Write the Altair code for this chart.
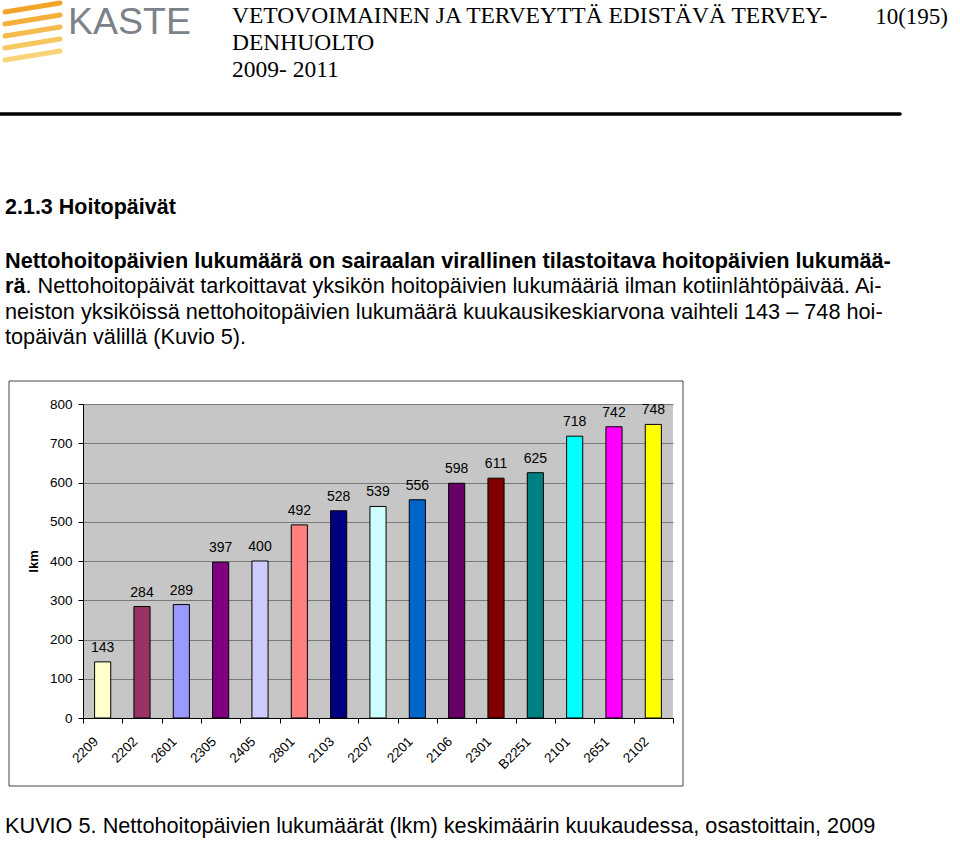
import altair as alt
import pandas as pd

# ---- data ----
categories = ["2209", "2202", "2601", "2305", "2405", "2801", "2103", "2207",
              "2201", "2106", "2301", "B2251", "2101", "2651", "2102"]
values = [143, 284, 289, 397, 400, 492, 528, 539, 556, 598, 611, 625, 718, 742, 748]
bar_colors = ["#FFFFCC", "#993366", "#9999FF", "#800080", "#CCCCFF", "#FF8080",
              "#000080", "#CCFFFF", "#0066CC", "#660066", "#800000", "#008080",
              "#00FFFF", "#FF00FF", "#FFFF00"]
y_ticks = [0, 100, 200, 300, 400, 500, 600, 700, 800]

header_lines = ["VETOVOIMAINEN JA TERVEYTTÄ EDISTÄVÄ TERVEY-", "DENHUOLTO", "2009- 2011"]
page_no = "10(195)"
heading = "2.1.3 Hoitopäivät"
para_bold_1 = "Nettohoitopäivien lukumäärä on sairaalan virallinen tilastoitava hoitopäivien lukumää-"
para_bold_2 = "rä"
para_rest_2 = ". Nettohoitopäivät tarkoittavat yksikön hoitopäivien lukumääriä ilman kotiinlähtöpäivää. Ai-"
para_3 = "neiston yksiköissä nettohoitopäivien lukumäärä kuukausikeskiarvona vaihteli 143 – 748 hoi-"
para_4 = "topäivän välillä (Kuvio 5)."
caption = "KUVIO 5. Nettohoitopäivien lukumäärät (lkm) keskimäärin kuukaudessa, osastoittain, 2009"
logo_text = "KASTE"

df = pd.DataFrame({"osasto": categories, "lkm": values})

SANS = "Liberation Sans"
SERIF = "Liberation Serif"

# plot area origin on page: (83, 404)
OX, OY = 83, 404
one = alt.Data(values=[{}])


def page_text(txt, px, py, size, font=SANS, weight="normal", color="black", align="left"):
    return alt.Chart(one).mark_text(
        text=txt, font=font, fontSize=size, fontWeight=weight, color=color,
        align=align, baseline="alphabetic"
    ).encode(x=alt.value(px - OX), y=alt.value(py - OY))


def page_rule(x1, y1, x2, y2, color, width):
    return alt.Chart(one).mark_rule(color=color, strokeWidth=width, strokeCap="round").encode(
        x=alt.value(x1 - OX), y=alt.value(y1 - OY), x2=alt.value(x2 - OX), y2=alt.value(y2 - OY))


x_enc = alt.X(
    "osasto:N", sort=categories,
    scale=alt.Scale(paddingInner=0, paddingOuter=0),
    axis=alt.Axis(title=None, labelAngle=315, labelAlign="right", labelBaseline="middle",
                  labelPadding=16, labelOffset=-7, tickBand="extent", tickSize=5,
                  domainColor="black", tickColor="black", labelColor="black",
                  labelFont=SANS, labelFontSize=13.5, labelOverlap=False, labelBound=False,
                  grid=False),
)
y_enc = alt.Y(
    "lkm:Q",
    scale=alt.Scale(domain=[0, 800], nice=False),
    axis=alt.Axis(values=y_ticks, title="lkm", titleFont=SANS, titleFontSize=13,
                  titleFontWeight="bold", titleColor="black", titleAngle=270,
                  titleX=33 - OX, titleY=561 - OY, titleAlign="center", titleBaseline="middle",
                  grid=True, gridColor="#7a7a7a", gridWidth=1, domainColor="black",
                  tickColor="black", tickSize=5, labelPadding=6, labelColor="black",
                  labelFont=SANS, labelFontSize=13.5, labelOverlap=False),
)

bars = alt.Chart(df).mark_bar(width={"band": 0.41}, stroke="black", strokeWidth=1).encode(
    x=x_enc, y=y_enc,
    color=alt.Color("osasto:N", scale=alt.Scale(domain=categories, range=bar_colors), legend=None),
)
labels = alt.Chart(df).mark_text(dy=-10, baseline="alphabetic", font=SANS, fontSize=14,
                                 color="black").encode(
    x=x_enc, y=y_enc, text="lkm:Q")

frame = alt.Chart(one).mark_rect(fillOpacity=0, stroke="#444444", strokeWidth=1).encode(
    x=alt.value(9 - OX), x2=alt.value(683 - OX), y=alt.value(381 - OY), y2=alt.value(786 - OY))

layers = [frame, bars, labels]

# logo
stripe_cols = ["#f2a52a", "#f4b03a", "#f5bb4c", "#f7c760", "#f9d47a"]
for i, c in enumerate(stripe_cols):
    y0 = 12 + i * 12
    layers.append(page_rule(5, y0, 60, y0 - 9, c, 5))
layers.append(page_text(logo_text, 68, 34, 37.5, color="#7d8288"))

# header
for i, line in enumerate(header_lines):
    layers.append(page_text(line, 232, 23 + i * 27, 23.5, font=SERIF))
layers.append(page_text(page_no, 948, 24, 23, font=SERIF, align="right"))
layers.append(page_rule(0, 114, 900, 114, "black", 3.5))

# body
BODY = 21.7
layers.append(page_text(heading, 5, 214, 21.5, weight="bold"))
layers.append(page_text(para_bold_1, 5, 268, BODY, weight="bold"))
layers.append(page_text(para_bold_2, 5, 293, BODY, weight="bold"))
layers.append(page_text(para_rest_2, 25.5, 293, BODY))
layers.append(page_text(para_3, 5, 318.5, BODY))
layers.append(page_text(para_4, 5, 344, BODY))
layers.append(page_text(caption, 5, 833, BODY))

chart = alt.layer(*layers).properties(
    width=673 - OX, height=718 - OY,
    padding={"left": OX, "top": OY, "right": 960 - 673, "bottom": 842 - 718},
    autosize=alt.AutoSizeParams(type="none"),
    background="white",
).configure_view(fill="#c6c6c6", stroke=None)

chart.save("out.html", embed_options={"renderer": "svg", "actions": False})
